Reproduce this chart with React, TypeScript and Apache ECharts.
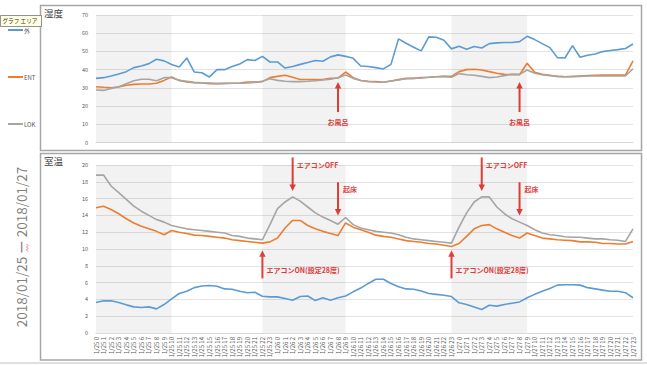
import React, { useEffect, useRef } from 'react';
import * as echarts from 'echarts';

// ---- categories ----
const DAYS = ['1/25', '1/26', '1/27'];
const HOURS = [0, 1, 2, 3, 4, 5, 6, 7, 8, 9, 10, 11, 12, 13, 14, 15, 16, 17, 18, 19, 20, 21, 22, 23];
const CATEGORIES = DAYS.flatMap((d) => HOURS.map((h) => `${d} ${h}`));

// ---- series names ----
const SERIES_NAMES = ['外', 'ENT', 'LOK'];

// ---- humidity (湿度) ----
const HUMIDITY_OUT = [
  35.2, 35.6, 36.5, 37.6, 38.9, 41.1, 42, 43.3, 45.7, 44.8, 42.8, 41.5, 46.4, 38.7, 38.3, 36, 40, 40, 41.7, 43.1, 45.5, 45, 47.3, 44.2,
  44.2, 40.9, 41.7, 42.9, 43.9, 45, 44.6, 47, 48.1, 47.3, 46.2, 42, 41.7, 41.1, 40.4, 42.9, 56.9, 54.5, 52.3, 50.3, 58, 57.8, 56.1, 51.4,
  52.8, 51.2, 52.7, 51.9, 54.3, 54.7, 54.9, 54.9, 55.4, 58.3, 56.5, 54.3, 52.1, 46.6, 46.4, 53.2, 46.8, 47.9, 48.6, 49.9, 50.5, 51, 51.6, 54.1,
];
const HUMIDITY_ENT = [
  30.6, 30.3, 30.1, 30.5, 31.4, 31.9, 32.1, 32.1, 32.5, 34.1, 36, 34.1, 33.2, 32.8, 32.7, 32.3, 32.3, 32.5, 32.5, 32.7, 33.2, 33.2, 33.4, 35.6,
  36.3, 36.9, 35.8, 34.6, 34.6, 34.5, 34.6, 35.2, 35.4, 38.7, 35.6, 34, 33.6, 33.4, 33.1, 33.8, 34.5, 35.2, 35.2, 35.6, 35.8, 36.1, 36.3, 36.3,
  38.9, 40, 40.2, 39.8, 38.9, 38, 37.4, 37.2, 37.2, 43.5, 38.5, 37.4, 36.9, 36.3, 36.1, 36.3, 36.5, 36.7, 36.9, 37, 37, 37, 37, 44.8,
];
const HUMIDITY_LOK = [
  28.8, 28.6, 29.7, 30.6, 32.3, 33.9, 34.7, 34.7, 33.9, 35.6, 35.6, 34.1, 33.6, 33, 32.8, 32.7, 32.3, 32.3, 32.5, 32.5, 32.7, 33, 33.6, 35,
  34.1, 33.6, 33.4, 33.4, 33.6, 33.9, 34.3, 34.7, 35.6, 37.1, 35.2, 34, 33.4, 33.2, 33.1, 33.8, 34.3, 35, 35.2, 35.4, 35.8, 36.1, 36.3, 35.8,
  37.8, 37.2, 36.9, 36.3, 35.6, 36, 36.7, 37.6, 37.4, 39.8, 38, 37.2, 36.7, 36.3, 36.1, 36.1, 36.3, 36.5, 36.5, 36.5, 36.5, 36.5, 36.5, 40.5,
];

// ---- temperature (室温) ----
const TEMP_OUT = [
  3.63, 3.83, 3.83, 3.63, 3.35, 3.11, 3.03, 3.11, 2.87, 3.39, 4.06, 4.7, 4.97, 5.4, 5.6, 5.65, 5.57, 5.25, 5.2, 4.97, 4.8, 4.85, 4.38, 4.3,
  4.3, 4.1, 3.9, 4.34, 4.4, 3.86, 4.2, 3.9, 4.2, 4.4, 4.9, 5.35, 5.9, 6.4, 6.4, 5.9, 5.5, 5.25, 5.2, 5.0, 4.7, 4.6, 4.5, 4.34,
  3.6, 3.4, 3.1, 2.8, 3.3, 3.2, 3.4, 3.55, 3.7, 4.2, 4.6, 4.97, 5.3, 5.7, 5.75, 5.75, 5.7, 5.4, 5.25, 5.1, 4.97, 4.97, 4.8, 4.2,
];
const TEMP_ENT = [
  14.9, 15.1, 14.7, 14.2, 13.6, 13.1, 12.7, 12.4, 12.1, 11.7, 12.2, 12.0, 11.85, 11.65, 11.6, 11.5, 11.4, 11.3, 11.1, 11.0, 10.9, 10.8, 10.7, 10.85,
  11.3, 12.5, 13.4, 13.4, 12.8, 12.4, 12.1, 11.85, 11.6, 13.1, 12.6, 12.3, 12.0, 11.65, 11.5, 11.4, 11.2, 11.0, 10.9, 10.8, 10.65, 10.6, 10.45, 10.3,
  10.65, 11.5, 12.4, 12.8, 12.9, 12.4, 12.0, 11.6, 11.3, 11.9, 11.6, 11.3, 11.2, 11.1, 11.05, 11.0, 10.85, 10.85, 10.8, 10.65, 10.65, 10.6, 10.6, 10.9,
];
const TEMP_LOK = [
  18.8, 18.8, 17.5, 16.7, 15.9, 15.1, 14.5, 14.0, 13.5, 13.2, 12.8, 12.6, 12.4, 12.3, 12.2, 12.1, 12.0, 11.9, 11.6, 11.5, 11.3, 11.2, 11.1, 12.9,
  14.8, 15.6, 16.2, 15.7, 15.0, 14.3, 13.8, 13.4, 12.95, 13.75, 12.9, 12.5, 12.3, 12.1, 12.0, 11.9, 11.7, 11.4, 11.2, 11.1, 11.0, 10.9, 10.8, 10.7,
  12.6, 14.3, 15.6, 16.2, 16.2, 15.0, 14.2, 13.6, 13.2, 12.8, 12.3, 11.9, 11.7, 11.6, 11.45, 11.4, 11.4, 11.3, 11.2, 11.2, 11.1, 11.05, 10.9, 12.4,
];

// ---- shaded night bands (category index ranges) ----
const NIGHT_BANDS = [
  [0, 10],
  [22, 33],
  [47, 57],
];

// ---- axis ticks ----
const HUMIDITY_AXIS = { min: 0, max: 70, interval: 10 };
const TEMP_AXIS = { min: 0, max: 20, interval: 2 };

const COLORS = ['#5b9bd5', '#ed7d31', '#a5a5a5'];
const RED = '#e8403a';
const FONT = '"Noto Sans CJK JP", "Noto Sans", sans-serif';

// annotation arrows, in data units (category index, value)
const ANNOTATIONS = [
  { grid: 0, cat: 31.9, tail: 16.7, head: 33.2, label: 'お風呂', labelY: 11.1, dx: 0, align: 'center' },
  { grid: 0, cat: 55.95, tail: 16.7, head: 33.2, label: 'お風呂', labelY: 11.1, dx: 0, align: 'center' },
  { grid: 1, cat: 25.9, tail: 20.9, head: 16.9, label: 'エアコンOFF', labelY: 20.05, dx: 4, align: 'left' },
  { grid: 1, cat: 31.9, tail: 17.95, head: 14.0, label: '起床', labelY: 17.1, dx: 5, align: 'left' },
  { grid: 1, cat: 22.2, tail: 6.5, head: 9.85, label: 'エアコンON(設定28度)', labelY: 7.45, dx: 4, align: 'left' },
  { grid: 1, cat: 50.85, tail: 20.9, head: 16.9, label: 'エアコンOFF', labelY: 20.05, dx: 4, align: 'left' },
  { grid: 1, cat: 55.65, tail: 17.95, head: 14.0, label: '起床', labelY: 17.1, dx: 5, align: 'left' },
  { grid: 1, cat: 47.35, tail: 6.5, head: 9.85, label: 'エアコンON(設定28度)', labelY: 7.45, dx: 4, align: 'left' },
];

function bandArea() {
  return {
    silent: true,
    itemStyle: { color: 'rgba(0,0,0,0.05)' },
    data: NIGHT_BANDS.map(([a, b]) => [{ xAxis: CATEGORIES[a] }, { xAxis: CATEGORIES[b] }]),
  };
}

function lineSeries(name: string, data: number[], color: string, idx: number, withBands: boolean) {
  return {
    type: 'line',
    name,
    data,
    xAxisIndex: idx,
    yAxisIndex: idx,
    symbol: 'none',
    lineStyle: { color, width: 1.6 },
    itemStyle: { color },
    markArea: withBands ? bandArea() : undefined,
  };
}

export default function App() {
  const ref = useRef<HTMLDivElement>(null);
  useEffect(() => {
    const el = ref.current!;
    const chart = echarts.init(el, undefined, { renderer: 'svg' });
    const axisLabelStyle = { fontSize: 5.5, color: '#595959', fontFamily: FONT };
    const splitLine = { show: true, lineStyle: { color: '#e3e3e3', width: 1 } };
    const option: any = {
      animation: false,
      textStyle: { fontFamily: FONT },
      legend: {
        orient: 'vertical',
        left: 8,
        top: 26,
        itemWidth: 15,
        itemHeight: 2,
        itemGap: 39,
        icon: 'rect',
        padding: 0,
        data: SERIES_NAMES,
        textStyle: { fontSize: 6, color: '#595959', lineHeight: 8, fontFamily: FONT, padding: [0, 0, 0, -4] },
      },
      grid: [
        { left: 96, right: 14, top: 15, height: 127.5 },
        { left: 96, right: 14, top: 165, height: 168 },
      ],
      xAxis: [
        {
          type: 'category',
          gridIndex: 0,
          data: CATEGORIES,
          boundaryGap: false,
          axisLabel: { show: false },
          axisTick: { show: false },
          axisLine: { lineStyle: { color: '#d9d9d9' } },
        },
        {
          type: 'category',
          gridIndex: 1,
          data: CATEGORIES,
          boundaryGap: false,
          axisLabel: { ...axisLabelStyle, fontSize: 6, rotate: 90, interval: 0, margin: 4 },
          axisTick: { show: false },
          axisLine: { lineStyle: { color: '#d9d9d9' } },
        },
      ],
      yAxis: [
        {
          type: 'value',
          gridIndex: 0,
          ...HUMIDITY_AXIS,
          axisLabel: { ...axisLabelStyle, margin: 8 },
          splitLine,
          axisLine: { show: false },
          axisTick: { show: false },
        },
        {
          type: 'value',
          gridIndex: 1,
          ...TEMP_AXIS,
          axisLabel: { ...axisLabelStyle, margin: 8 },
          splitLine,
          axisLine: { show: false },
          axisTick: { show: false },
        },
      ],
      series: [
        lineSeries(SERIES_NAMES[0], HUMIDITY_OUT, COLORS[0], 0, true),
        lineSeries(SERIES_NAMES[1], HUMIDITY_ENT, COLORS[1], 0, false),
        lineSeries(SERIES_NAMES[2], HUMIDITY_LOK, COLORS[2], 0, false),
        lineSeries(SERIES_NAMES[0], TEMP_OUT, COLORS[0], 1, true),
        lineSeries(SERIES_NAMES[1], TEMP_ENT, COLORS[1], 1, false),
        lineSeries(SERIES_NAMES[2], TEMP_LOK, COLORS[2], 1, false),
      ],
    };
    chart.setOption(option);

    const graphics: any[] = [
      { type: 'rect', shape: { x: 40.5, y: 5.5, width: 601, height: 145 }, style: { fill: 'none', stroke: '#a6a6a6', lineWidth: 1.5 } },
      { type: 'rect', shape: { x: 40.5, y: 153.5, width: 601, height: 206.5 }, style: { fill: 'none', stroke: '#a6a6a6', lineWidth: 1.5 } },
      { type: 'line', shape: { x1: 0, y1: 363, x2: 647, y2: 363 }, style: { stroke: '#bfbfbf', lineWidth: 1 } },
      { type: 'text', x: 44, y: 8, style: { text: '湿度', fontSize: 9.5, fill: '#404040', fontFamily: FONT } },
      { type: 'text', x: 44, y: 156, style: { text: '室温', fontSize: 9.5, fill: '#404040', fontFamily: FONT } },
      { type: 'rect', shape: { x: 0.5, y: 15.5, width: 41, height: 11 }, style: { fill: '#ffffe1', stroke: '#767676', lineWidth: 0.8 } },
      { type: 'text', x: 2.5, y: 21, style: { text: 'グラフ エリア', fontSize: 5.6, fill: '#333', fontFamily: FONT, verticalAlign: 'middle' } },
      {
        type: 'text',
        x: 21,
        y: 247,
        rotation: Math.PI / 2,
        style: { text: '2018/01/25 ー 2018/01/27', fontSize: 13.5, fill: '#7f7f7f', fontFamily: FONT, align: 'center', verticalAlign: 'middle' },
      },
      {
        type: 'polyline',
        shape: { points: [[26.5, 244], [28, 245.5], [26.5, 247], [28, 248.5], [26.5, 250], [28, 251.5]] },
        style: { stroke: '#e05050', lineWidth: 0.8, fill: 'none' },
      },
    ];

    ANNOTATIONS.forEach((a) => {
      const t = chart.convertToPixel({ gridIndex: a.grid } as any, [a.cat, a.tail]) as number[];
      const h = chart.convertToPixel({ gridIndex: a.grid } as any, [a.cat, a.head]) as number[];
      const l = chart.convertToPixel({ gridIndex: a.grid } as any, [a.cat, a.labelY]) as number[];
      const x = t[0];
      const d = Math.sign(h[1] - t[1]);
      graphics.push({ type: 'line', shape: { x1: x, y1: t[1], x2: x, y2: h[1] - d * 5 }, style: { stroke: RED, lineWidth: 2 } });
      graphics.push({
        type: 'polygon',
        shape: { points: [[x - 3.2, h[1] - d * 6.5], [x + 3.2, h[1] - d * 6.5], [x, h[1]]] },
        style: { fill: RED },
      });
      graphics.push({
        type: 'text',
        x: x + a.dx,
        y: l[1],
        style: { text: a.label, fontSize: 7, fontWeight: 'bold', fill: RED, fontFamily: FONT, align: a.align, verticalAlign: 'middle' },
      });
    });

    chart.setOption({ graphic: graphics });
    return () => chart.dispose();
  }, []);
  return <div ref={ref} style={{ position: 'absolute', left: 0, top: 0, width: 647, height: 365 }} />;
}
